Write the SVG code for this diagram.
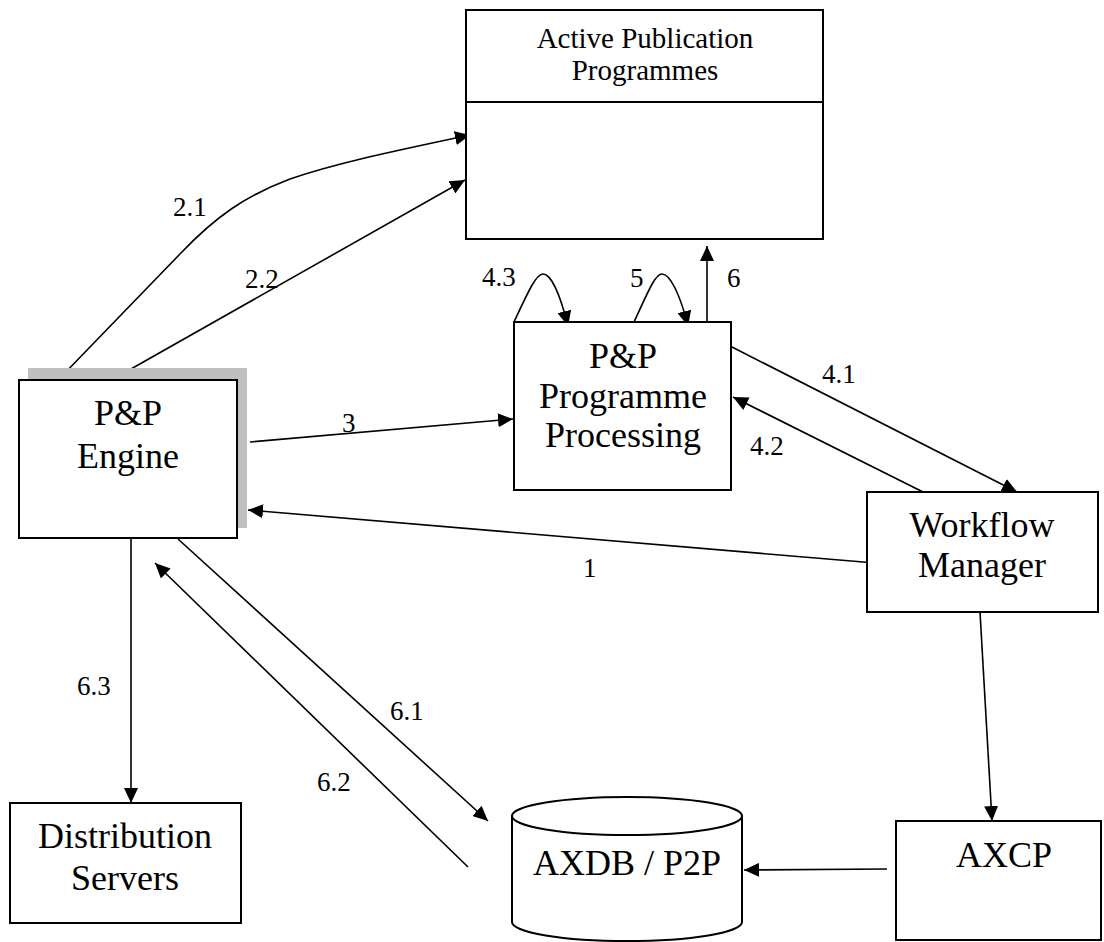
<svg xmlns="http://www.w3.org/2000/svg" width="1104" height="942" viewBox="0 0 1104 942">
<defs>
<style>
.box{fill:#fff;stroke:#000;stroke-width:2}
.ln{fill:none;stroke:#000;stroke-width:1.6}
.t{font-family:"Liberation Serif","Times New Roman",serif;fill:#000}
.big{font-size:36px;text-anchor:middle}
.mid{font-size:29px;text-anchor:middle}
.lbl{font-size:27px}
</style>
<marker id="ah" markerUnits="userSpaceOnUse" markerWidth="15" markerHeight="14" refX="15" refY="7" orient="auto">
<path d="M0,0 L15,7 L0,14 z" fill="#000"/>
</marker>
</defs>
<rect width="1104" height="942" fill="#fff"/>
<g id="connectors">
<path class="ln" marker-end="url(#ah)" d="M60,378 L180,254 C215,217 245,196 290,179 C340,162 400,150 470,135"/>
<line class="ln" marker-end="url(#ah)" x1="108" y1="382" x2="465" y2="180"/>
<line class="ln" marker-end="url(#ah)" x1="250" y1="442" x2="513" y2="419"/>
<path class="ln" marker-end="url(#ah)" d="M514,322 C528,292 536,274 543,274 C551,274 560,294 568,326"/>
<path class="ln" marker-end="url(#ah)" d="M634,322 C648,292 655,274 662,274 C670,274 680,294 688,326"/>
<line class="ln" marker-end="url(#ah)" x1="707" y1="322" x2="707" y2="246"/>
<line class="ln" marker-end="url(#ah)" x1="732" y1="347" x2="1017" y2="492"/>
<line class="ln" marker-end="url(#ah)" x1="923" y1="492" x2="733" y2="397"/>
<line class="ln" marker-end="url(#ah)" x1="875" y1="563" x2="248" y2="510"/>
<line class="ln" marker-end="url(#ah)" x1="980" y1="612" x2="992" y2="821"/>
<line class="ln" marker-end="url(#ah)" x1="887" y1="869" x2="744" y2="870"/>
<line class="ln" marker-end="url(#ah)" x1="131" y1="537" x2="131" y2="803"/>
<line class="ln" marker-end="url(#ah)" x1="178" y1="539" x2="488" y2="821"/>
<line class="ln" marker-end="url(#ah)" x1="468" y1="867" x2="155" y2="563"/>
<g class="t lbl">
<text x="173" y="216">2.1</text>
<text x="245" y="288">2.2</text>
<text x="342" y="432">3</text>
<text x="482" y="286">4.3</text>
<text x="630" y="287">5</text>
<text x="727" y="287">6</text>
<text x="822" y="383">4.1</text>
<text x="750" y="455">4.2</text>
<text x="583" y="577">1</text>
<text x="77" y="695">6.3</text>
<text x="390" y="720">6.1</text>
<text x="317" y="791">6.2</text>
</g>
</g>
<g id="active-publication-programmes">
<rect class="box" x="466" y="10" width="357" height="229"/>
<line class="box" x1="466" y1="102" x2="823" y2="102"/>
<text class="t mid" x="645" y="48">Active Publication</text>
<text class="t mid" x="645" y="80">Programmes</text>
</g>
<g id="pp-engine">
<rect x="28" y="368" width="219" height="160" fill="#c0c0c0"/>
<rect class="box" x="19" y="380" width="218" height="158"/>
<text class="t big" x="128" y="425">P&amp;P</text>
<text class="t big" x="128" y="468">Engine</text>
</g>
<g id="pp-programme-processing">
<rect class="box" x="514" y="322" width="217" height="168"/>
<text class="t big" x="623" y="368">P&amp;P</text>
<text class="t big" x="623" y="408">Programme</text>
<text class="t big" x="623" y="447">Processing</text>
</g>
<g id="workflow-manager">
<rect class="box" x="867" y="492" width="231" height="120"/>
<text class="t big" x="982" y="537">Workflow</text>
<text class="t big" x="982" y="577">Manager</text>
</g>
<g id="distribution-servers">
<rect class="box" x="10" y="803" width="231" height="120"/>
<text class="t big" x="125" y="848">Distribution</text>
<text class="t big" x="125" y="890">Servers</text>
</g>
<g id="axdb-p2p">
<path class="box" d="M512,816 L512,922 A115,19 0 0 0 742,922 L742,816 A115,19 0 0 0 512,816 A115,19 0 0 0 742,816"/>
<text class="t big" x="627" y="875">AXDB / P2P</text>
</g>
<g id="axcp">
<rect class="box" x="896" y="821" width="205" height="119"/>
<text class="t big" x="1004" y="867">AXCP</text>
</g>
</svg>
